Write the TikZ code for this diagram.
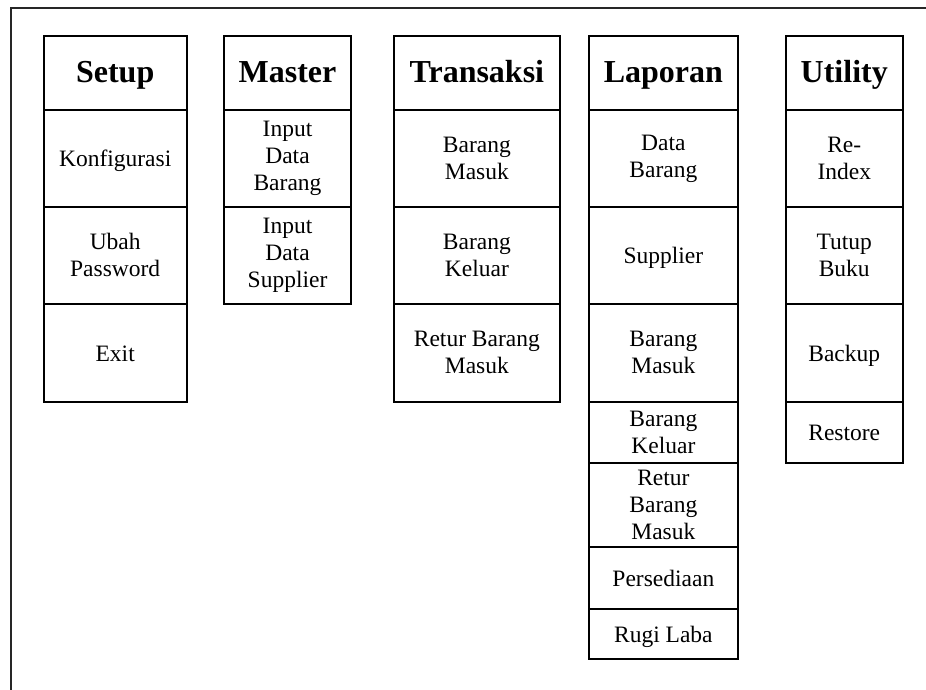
\documentclass[tikz,border=0pt]{standalone}
\usepackage{fontspec}
\setmainfont{Liberation Serif}
\newcommand\hdfont{\fontsize{32}{36}\selectfont\bfseries}
\newcommand\bdfont{\fontsize{23.5}{27}\selectfont}
\tikzset{
  cell/.style={draw, line width=2pt, rectangle, inner sep=0pt, align=center, font=\bdfont},
  one/.style={cell, text height=21pt, text depth=4.3pt},
  head/.style={cell, font=\hdfont, minimum height=74.3pt, text height=24pt, text depth=3.7pt},
  frameline/.style={line width=1.6pt, draw=black!85}
}
\begin{document}
\begin{tikzpicture}[x=1pt,y=-1pt]
\useasboundingbox (0,0) rectangle (926,690);
\coordinate (ftr) at (926,8);
\coordinate (ftl) at (11,8);
\coordinate (fbl) at (11,690);
\draw[frameline] (ftr) -- (ftl) -- (fbl);

% Setup
\begin{scope}[every node/.append style={minimum width=143pt}]
\node[head] (setup) at (115.2,72.85) {Setup};
\node[one, minimum height=96.7pt] (konf) at (115.2,158.35) {Konfigurasi};
\node[cell, minimum height=97.3pt] (ubah) at (115.2,255.35) {Ubah\\Password};
\node[one, minimum height=97.7pt] (exit) at (115.2,352.85) {Exit};
\end{scope}

% Master
\begin{scope}[every node/.append style={minimum width=127pt}]
\node[head] (master) at (287.5,72.85) {Master};
\node[cell, minimum height=96.7pt] (inbar) at (287.5,158.35) {Input\\Data\\Barang};
\node[cell, minimum height=97.3pt] (insup) at (287.5,255.35) {Input\\Data\\Supplier};
\end{scope}

% Transaksi
\begin{scope}[every node/.append style={minimum width=166.3pt}]
\node[head] (trans) at (476.85,72.85) {Transaksi};
\node[cell, minimum height=96.7pt] (tmasuk) at (476.85,158.35) {Barang\\Masuk};
\node[cell, minimum height=97.3pt] (tkeluar) at (476.85,255.35) {Barang\\Keluar};
\node[cell, minimum height=97.7pt] (tretur) at (476.85,352.85) {Retur Barang\\Masuk};
\end{scope}

% Laporan
\begin{scope}[every node/.append style={minimum width=148.7pt}]
\node[head] (lap) at (663.35,72.85) {Laporan};
\node[cell, minimum height=96.7pt] (ldata) at (663.35,158.35) {Data\\Barang};
\node[one, minimum height=97.3pt] (lsup) at (663.35,255.35) {Supplier};
\node[cell, minimum height=97.7pt] (lmasuk) at (663.35,352.85) {Barang\\Masuk};
\node[cell, minimum height=61pt] (lkeluar) at (663.35,432.2) {Barang\\Keluar};
\node[cell, minimum height=84pt] (lretur) at (663.35,504.7) {Retur\\Barang\\Masuk};
\node[one, minimum height=62.3pt] (lpers) at (663.35,577.85) {Persediaan};
\node[one, minimum height=50.3pt] (lrugi) at (663.35,634.15) {Rugi Laba};
\end{scope}

% Utility
\begin{scope}[every node/.append style={minimum width=117.5pt}]
\node[head] (util) at (844.25,72.85) {Utility};
\node[cell, minimum height=96.7pt] (reindex) at (844.25,158.35) {Re-\\Index};
\node[cell, minimum height=97.3pt] (tutup) at (844.25,255.35) {Tutup\\Buku};
\node[one, minimum height=97.7pt] (backup) at (844.25,352.85) {Backup};
\node[one, minimum height=61pt] (restore) at (844.25,432.2) {Restore};
\end{scope}
\end{tikzpicture}
\end{document}
